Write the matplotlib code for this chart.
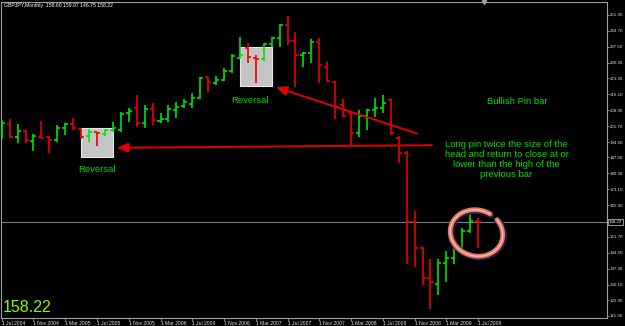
import matplotlib
matplotlib.use('Agg')
import matplotlib.pyplot as plt
from matplotlib.patches import Rectangle, FancyArrowPatch
import numpy as np

# ---------------- data (GBPJPY monthly, Jul 2004 .. Jul 2009) ----------------
header = "GBPJPY,Monthly  158.60 159.97 146.75 158.22"
last_price = 158.22

opens = [199.9, 202.7, 196.6, 199.5, 195.1, 196.9, 196.6, 195.4, 200.7, 202.7,
         200.5, 197.2, 198.9, 198.1, 199.9, 199.9, 207.5, 209.7, 203.3, 209.3,
         204.2, 204.8, 209.0, 210.8, 211.5, 214.3, 223.7, 221.3, 222.5, 226.6,
         232.5, 237.1, 232.6, 231.9, 238.6, 241.4, 247.4, 240.3, 233.8, 234.9,
         239.9, 228.6, 221.8, 211.2, 207.5, 198.4, 206.3, 209.0, 209.7, 213.5,
         196.5, 189.4, 158.2, 146.5, 132.9, 130.4, 140.0, 142.0, 146.5, 154.5,
         158.60]
highs = [204.5, 204.8, 202.7, 199.9, 198.1, 204.0, 197.2, 202.2, 203.0, 205.2,
         200.8, 200.2, 199.2, 200.2, 203.7, 208.2, 209.7, 215.8, 211.2, 212.3,
         207.5, 211.2, 212.4, 213.8, 216.8, 224.0, 224.0, 224.5, 227.8, 234.3,
         241.8, 239.1, 233.8, 239.4, 242.1, 247.8, 251.5, 244.1, 235.3, 240.9,
         241.7, 230.8, 222.1, 213.8, 207.8, 209.0, 209.3, 214.3, 215.8, 213.8,
         197.2, 190.5, 163.4, 147.0, 141.5, 141.5, 145.4, 146.8, 155.5, 162.6,
         159.97]
lows = [195.7, 196.2, 193.9, 193.9, 190.6, 196.2, 189.4, 194.7, 197.7, 199.9,
        195.7, 194.7, 192.7, 197.2, 199.2, 199.2, 203.7, 201.4, 200.7, 202.2,
        203.3, 203.7, 205.2, 209.7, 209.7, 213.8, 217.3, 220.3, 222.2, 225.6,
        231.9, 230.4, 221.0, 231.3, 237.6, 237.6, 238.4, 219.5, 228.3, 230.4,
        221.3, 222.1, 204.8, 206.0, 192.7, 196.9, 199.9, 206.0, 207.8, 197.7,
        184.9, 139.3, 137.9, 129.9, 118.9, 125.4, 131.4, 139.4, 143.5, 153.6,
        146.75]
closes = [203.0, 196.6, 199.6, 195.4, 197.2, 196.5, 195.4, 200.7, 202.7, 200.7,
          196.9, 199.2, 198.4, 199.9, 200.7, 207.0, 208.7, 203.3, 209.3, 204.5,
          204.8, 209.3, 210.5, 212.7, 214.3, 223.3, 221.8, 222.5, 226.6, 233.5,
          233.8, 232.8, 232.0, 238.8, 241.4, 247.2, 240.3, 233.8, 234.9, 239.9,
          229.3, 222.2, 210.5, 206.3, 198.4, 206.3, 209.0, 209.7, 212.0, 198.4,
          189.4, 158.2, 146.5, 132.9, 131.4, 140.0, 142.0, 146.5, 154.5, 158.6,
          158.22]

x_tick_pos = [0, 4, 8, 12, 16, 20, 24, 28, 32, 36, 40, 44, 48, 52, 56, 60]
x_tick_labels = ["1 Jul 2004", "1 Nov 2004", "1 Mar 2005", "1 Jul 2005",
                 "1 Nov 2005", "1 Mar 2006", "1 Jul 2006", "1 Nov 2006",
                 "1 Mar 2007", "1 Jul 2007", "1 Nov 2007", "1 Mar 2008",
                 "1 Jul 2008", "1 Nov 2008", "1 Mar 2009", "1 Jul 2009"]
y_tick_labels = ["251.90", "244.70", "237.50", "230.30", "223.30", "216.10",
                 "208.90", "201.70", "194.50", "187.50", "180.30", "173.10",
                 "165.90", "151.70", "144.50", "137.30", "130.10", "122.90",
                 "115.90"]

# annotation objects (bar index / price space)
box1 = (10.0, 187.9, 14.0, 201.0)
box2 = (30.0, 219.8, 34.0, 237.6)

# ---------------- figure ----------------
W, H = 625, 326
fig = plt.figure(figsize=(W / 100, H / 100), dpi=100, facecolor='black')
ax_l, ax_r, ax_t, ax_b = 1.0, 607.0, 1.7, 317.5
ax = fig.add_axes([ax_l / W, (H - ax_b) / H, (ax_r - ax_l) / W, (ax_b - ax_t) / H])
ax.set_facecolor('black')
XMIN, XMAX = -0.088, 76.23
YMIN, YMAX = 115.2, 257.9
ax.set_xlim(XMIN, XMAX)
ax.set_ylim(YMIN, YMAX)

def px2data(xp, yp):
    xd = XMIN + (xp - ax_l) / (ax_r - ax_l) * (XMAX - XMIN)
    yd = YMAX - (yp - ax_t) / (ax_b - ax_t) * (YMAX - YMIN)
    return xd, yd

GREEN = '#00E400'
RED = '#E80000'
TEXTGREEN = '#00D800'

# boxes (behind bars)
for (x0, y0, x1, y1) in (box1, box2):
    ax.add_patch(Rectangle((x0, y0), x1 - x0, y1 - y0, facecolor='#C4C4C4',
                           edgecolor='#E8E8E8', lw=0.8, zorder=1))

# current price line
ax.axhline(last_price, color='#708090', lw=0.8, zorder=1.5)

# OHLC bars
o = np.array(opens); h = np.array(highs); l = np.array(lows); c = np.array(closes)
idx = np.arange(len(o))
cols = [GREEN if cc >= oo else RED for oo, cc in zip(o, c)]
tick = 0.38
ax.vlines(idx, l, h, colors=cols, lw=1.2, zorder=3)
ax.hlines(o, idx - tick, idx, colors=cols, lw=1.2, zorder=3)
ax.hlines(c, idx, idx + tick, colors=cols, lw=1.2, zorder=3)

# arrows
ARROW = '#E00000'
def arrow(p_from, p_to):
    a = FancyArrowPatch(px2data(*p_from), px2data(*p_to),
                        arrowstyle='-|>,head_length=6.5,head_width=2.8',
                        mutation_scale=1, color=ARROW, lw=1.4, zorder=5,
                        shrinkA=0, shrinkB=0)
    ax.add_patch(a)

arrow((432, 145.2), (117, 147.8))
arrow((417, 133.5), (276, 87.3))

# texts
tfont = dict(family=['Liberation Sans', 'DejaVu Sans'], fontsize=6.8)
ax.text(*px2data(97, 169), "Reversal", color=TEXTGREEN, ha='center', va='center', zorder=6, **tfont)
ax.text(*px2data(250, 100), "Reversal", color=TEXTGREEN, ha='center', va='center', zorder=6, **tfont)
ax.text(*px2data(517, 101.5), "Bullish Pin bar", color='#00E000', ha='center', va='center', zorder=6, **tfont)
ax.text(*px2data(506.5, 159.7),
        "Long pin twice the size of the\nhead and return to close at or\nlower than the high of the\nprevious bar",
        color='#00E000', ha='center', va='center', linespacing=1.17, zorder=6, **tfont)

# ring around the last bars
t = np.radians(np.linspace(72, 412, 300))
cx, cy, a_, b_ = 476.5, 233.0, 26.5, 23.0
rot = np.radians(-15)
ex = a_ * np.cos(t); ey = b_ * np.sin(t)
xp = cx + ex * np.cos(rot) - ey * np.sin(rot)
yp = cy - (ex * np.sin(rot) + ey * np.cos(rot))
xd, yd = px2data(xp, yp)
xd2, yd2 = px2data(xp + 0.8, yp + 0.8)
ax.plot(xd2, yd2, color='#2a1838', lw=5.0, solid_capstyle='round', zorder=6)
ax.plot(xd, yd, color='#E07A64', lw=3.4, solid_capstyle='round', zorder=7)
ax.plot(xd, yd, color='#F6B8A8', lw=1.0, solid_capstyle='round', zorder=8)

# shift marker
ax.plot([px2data(484, 0)[0]], [YMAX], marker='v', color='#9aa0a8', ms=3, clip_on=False, zorder=9)

# axes styling
for s in ax.spines.values():
    s.set_color('#A0A0A0')
    s.set_linewidth(0.8)

small = dict(family=['Liberation Sans', 'DejaVu Sans'])
ax.set_xticks(x_tick_pos)
ax.set_xticklabels(x_tick_labels, fontsize=3.6, color='#E0E0E0', ha='left', **small)
ax.yaxis.tick_right()
ax.set_yticks([float(v) for v in y_tick_labels])
ax.set_yticklabels(y_tick_labels, fontsize=3.2, color='#E0E0E0', **small)
ax.tick_params(axis='x', colors='#A0A0A0', length=2.0, width=0.6, pad=0.8, labelcolor='#E0E0E0')
ax.tick_params(axis='y', colors='#A0A0A0', length=1.5, width=0.6, pad=0.5, labelcolor='#E0E0E0')

# current price label on axis
ax.text(1.0 + 1.8 / (ax_r - ax_l), last_price, f"{last_price:.2f}", transform=ax.get_yaxis_transform(),
        fontsize=3.2, color='white', ha='left', va='center', zorder=10, clip_on=False,
        bbox=dict(boxstyle='square,pad=0.2', fc='black', ec='#D0D0D0', lw=0.5), **small)

# header + big price
fig.text(4 / W, (H - 5) / H, header, fontsize=3.7, color='white', ha='left', va='center', **small)
fig.text(3 / W, (H - 312) / H, f"{last_price:.2f}", fontsize=11.5, color='#7FFF00',
         ha='left', va='baseline', family=['Liberation Sans', 'DejaVu Sans'])

fig.savefig('out.png', dpi=100, facecolor='black')
